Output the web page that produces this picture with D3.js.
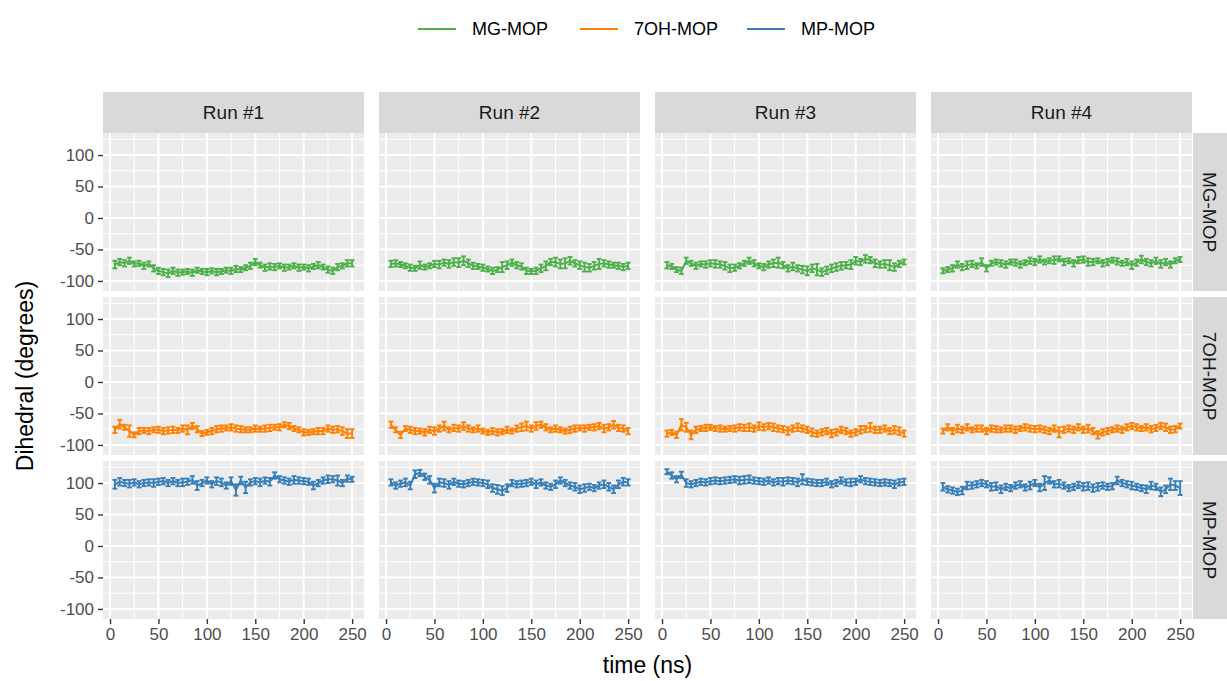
<!DOCTYPE html>
<html>
<head>
<meta charset="utf-8">
<script src="https://cdn.jsdelivr.net/npm/d3@7"></script>
<style>
  body { margin: 0; background: #fff; }
  text { font-family: "Liberation Sans", Arial, sans-serif; }
</style>
</head>
<body>
<div id="chart"></div>
<script>
// categories and ticks
const molecules = ['MG-MOP', '7OH-MOP', 'MP-MOP'];
const runs = ['Run #1', 'Run #2', 'Run #3', 'Run #4'];
const yTicks = [-100, -50, 0, 50, 100];
const xTicks = [0, 50, 100, 150, 200, 250];
const times = [5,10,15,20,25,30,35,40,45,50,55,60,65,70,75,80,85,90,95,100,
               105,110,115,120,125,130,135,140,145,150,155,160,165,170,175,180,185,190,195,200,
               205,210,215,220,225,230,235,240,245,250];

// MG-MOP dihedral means / errors
const mgRun1 = [-74,-70,-72,-68,-73,-72,-76,-73,-80,-84,-86,-88,-84,-87,-86,-85,-87,-83,-85,-86,
                -84,-86,-85,-83,-84,-81,-82,-79,-76,-70,-75,-79,-77,-78,-76,-79,-78,-76,-79,-78,
                -80,-77,-75,-78,-82,-84,-78,-76,-72,-72];
const mgErr1 = [6,5,5,5,4,4,5,4,5,5,5,6,5,5,4,4,5,4,4,5,4,5,4,4,5,5,4,4,5,5,4,5,5,5,4,5,4,4,5,4,5,4,5,4,5,5,5,4,5,5];
const mgRun2 = [-73,-72,-74,-76,-79,-80,-75,-78,-76,-73,-74,-71,-73,-70,-71,-68,-72,-76,-77,-79,
                -81,-84,-82,-78,-75,-71,-75,-77,-84,-85,-84,-80,-76,-70,-70,-73,-72,-68,-72,-75,
                -78,-79,-76,-73,-72,-74,-75,-76,-78,-76];
const mgErr2 = [5,5,4,4,5,4,6,4,4,5,6,5,6,6,7,7,6,5,4,5,4,5,4,8,6,5,5,5,5,4,5,6,7,5,7,7,8,6,5,6,7,6,6,8,5,5,4,5,5,5];
const mgRun3 = [-75,-77,-82,-84,-68,-72,-76,-73,-74,-72,-73,-74,-76,-80,-79,-76,-72,-68,-72,-76,
                -78,-74,-72,-71,-75,-80,-77,-80,-82,-84,-80,-82,-86,-83,-80,-78,-76,-75,-74,-68,
                -70,-65,-67,-72,-74,-73,-75,-78,-73,-70];
const mgErr3 = [5,4,4,5,5,4,5,4,5,5,6,5,6,6,5,4,4,5,5,4,5,5,6,8,5,5,6,5,6,7,6,9,6,6,6,6,6,5,7,6,5,6,5,6,5,6,8,6,5,4];
const mgRun4 = [-84,-82,-80,-74,-78,-75,-73,-76,-70,-80,-72,-70,-72,-74,-70,-71,-74,-71,-68,-70,
                -66,-70,-68,-67,-65,-70,-68,-72,-67,-66,-70,-70,-68,-72,-70,-67,-69,-72,-70,-75,
                -71,-66,-70,-72,-68,-73,-70,-74,-68,-66];
const mgErr4 = [4,4,5,5,5,6,5,4,6,5,4,4,5,5,4,5,5,4,5,5,5,4,4,6,4,5,4,5,5,5,6,5,4,5,5,4,5,4,5,6,5,6,5,5,5,6,5,5,4,4];

// 7OH-MOP
const ohRun1 = [-76,-67,-72,-78,-84,-78,-77,-78,-76,-76,-78,-77,-76,-77,-74,-76,-70,-75,-82,-80,
                -78,-75,-74,-73,-72,-74,-75,-76,-76,-74,-75,-74,-73,-72,-72,-68,-70,-74,-76,-80,
                -80,-79,-78,-78,-74,-76,-75,-78,-82,-82];
const ohErr1 = [5,7,4,9,4,5,4,5,4,5,5,5,5,4,5,7,5,5,4,4,5,5,5,4,5,5,5,4,4,5,4,5,5,4,5,4,5,4,4,5,4,4,5,5,5,5,5,6,7,7];
const ohRun2 = [-68,-76,-84,-74,-76,-78,-78,-80,-76,-78,-74,-70,-76,-73,-74,-70,-74,-76,-74,-78,
                -80,-78,-80,-79,-76,-78,-74,-72,-70,-74,-70,-68,-72,-76,-74,-76,-78,-76,-74,-73,
                -74,-72,-72,-70,-74,-72,-68,-73,-74,-78];
const ohErr2 = [5,4,5,4,5,5,4,5,5,6,5,7,4,5,5,6,5,4,5,4,4,5,5,4,5,4,5,6,7,5,6,5,5,4,5,4,4,5,5,4,5,4,5,5,6,5,6,5,5,5];
const ohRun3 = [-82,-80,-84,-68,-72,-84,-76,-74,-73,-72,-74,-74,-75,-74,-74,-72,-73,-72,-74,-70,
                -72,-70,-72,-74,-75,-78,-74,-72,-74,-76,-80,-82,-80,-78,-82,-80,-76,-78,-82,-80,
                -76,-75,-72,-76,-76,-74,-78,-76,-78,-82];
const ohErr3 = [5,4,5,9,7,7,5,4,5,4,4,5,4,4,5,5,5,6,5,6,5,5,6,5,5,6,5,6,5,5,6,5,5,5,6,5,5,5,5,5,6,5,7,5,5,5,5,6,6,5];
const ohRun4 = [-78,-72,-78,-74,-76,-72,-76,-74,-74,-78,-74,-75,-76,-74,-74,-76,-74,-72,-74,-75,
                -74,-76,-78,-74,-80,-76,-74,-76,-72,-76,-74,-78,-84,-80,-78,-76,-74,-76,-72,-70,
                -72,-74,-72,-75,-73,-70,-72,-76,-75,-70];
const ohErr4 = [4,5,5,6,5,5,4,5,5,5,5,5,4,5,5,5,4,5,5,5,5,5,5,5,8,5,5,5,5,5,6,5,6,5,5,4,5,5,5,5,5,4,5,5,5,5,6,5,5,4];

// MP-MOP
const mpRun1 = [98,102,100,99,101,98,100,101,100,102,103,100,103,100,101,102,105,96,100,104,
                98,103,101,96,103,89,104,93,101,103,101,104,102,112,106,104,102,105,104,103,
                102,96,100,104,106,106,104,100,107,106];
const mpErr1 = [7,6,5,6,5,5,5,5,6,5,5,5,5,5,6,5,6,7,5,5,5,6,6,5,6,9,6,9,5,5,6,5,6,5,5,5,5,6,5,5,5,6,5,5,6,5,8,5,5,4];
const mpRun2 = [101,96,99,101,96,114,116,110,105,92,101,100,97,102,99,98,100,102,101,100,
                98,92,90,88,92,100,98,99,100,102,98,101,96,94,98,104,100,96,94,90,
                92,94,92,96,98,94,90,98,102,101];
const mpErr2 = [5,5,5,6,6,6,5,5,6,7,6,6,6,5,5,5,5,5,5,5,6,6,7,7,6,5,5,5,5,5,6,5,5,5,6,5,5,5,6,6,6,5,5,5,6,6,6,6,6,5];
const mpRun3 = [118,112,106,113,100,98,100,102,101,103,104,103,104,105,106,104,105,106,104,103,
                102,104,101,103,102,104,103,101,106,102,101,100,100,102,98,100,104,101,101,102,
                106,103,102,101,100,101,100,98,101,102];
const mpErr3 = [4,5,5,5,6,5,5,5,5,5,5,5,5,5,5,6,6,6,5,5,5,5,5,5,6,5,5,6,8,5,5,5,5,5,5,5,5,5,6,5,5,5,5,5,5,5,5,6,5,5];
const mpRun4 = [94,90,88,86,88,96,96,98,100,98,94,95,90,94,92,96,98,93,96,100,
                93,100,104,98,99,96,92,94,97,94,95,92,94,96,94,95,104,100,98,96,
                94,92,90,96,94,86,90,98,96,92];
const mpErr4 = [6,5,5,5,6,6,5,5,5,5,6,6,6,5,5,5,5,5,6,5,6,11,5,5,6,5,5,5,5,6,6,6,6,5,5,5,6,5,5,6,5,5,6,6,5,7,6,9,7,11];

// table built from the arrays above: rows = molecule, columns = run
const panels = {
    'MG-MOP': [[mgRun1, mgErr1], [mgRun2, mgErr2], [mgRun3, mgErr3], [mgRun4, mgErr4]],
    '7OH-MOP': [[ohRun1, ohErr1], [ohRun2, ohErr2], [ohRun3, ohErr3], [ohRun4, ohErr4]],
    'MP-MOP': [[mpRun1, mpErr1], [mpRun2, mpErr2], [mpRun3, mpErr3], [mpRun4, mpErr4]]
};

const colorOf = {'MG-MOP': '#4DAF4A', '7OH-MOP': '#FF7F00', 'MP-MOP': '#377EB8'};

// layout
const width = 1227, height = 681;
const colX = [103, 379, 655, 931];
const rowY = [133, 297, 461];
const panelW = 261, panelH = 158;
const stripH = 41, stripW = 34;
const tickFont = 17, stripFont = 19, titleFont = 23;

const svg = d3.select('#chart').append('svg')
    .attr('width', width)
    .attr('height', height);

svg.append('rect').attr('width', width).attr('height', height).attr('fill', '#fff');

const x = d3.scaleLinear().domain([-7.25, 262.25]).range([0, panelW]);
const y = d3.scaleLinear().domain([-116, 135]).range([panelH, 0]);

const xMinor = [25, 75, 125, 175, 225];
const yMinor = [-75, -25, 25, 75, 125];

molecules.forEach((mol, r) => {
    runs.forEach((run, c) => {
        const g = svg.append('g')
            .attr('transform', `translate(${colX[c]},${rowY[r]})`);

        g.append('rect')
            .attr('width', panelW)
            .attr('height', panelH)
            .attr('fill', '#EBEBEB');

        // minor grid
        g.selectAll('.ymin').data(yMinor).enter().append('line')
            .attr('x1', 0).attr('x2', panelW)
            .attr('y1', d => y(d)).attr('y2', d => y(d))
            .attr('stroke', '#fff').attr('stroke-width', 1);
        g.selectAll('.xmin').data(xMinor).enter().append('line')
            .attr('y1', 0).attr('y2', panelH)
            .attr('x1', d => x(d)).attr('x2', d => x(d))
            .attr('stroke', '#fff').attr('stroke-width', 1);

        // major grid
        g.selectAll('.ymaj').data(yTicks).enter().append('line')
            .attr('x1', 0).attr('x2', panelW)
            .attr('y1', d => y(d)).attr('y2', d => y(d))
            .attr('stroke', '#fff').attr('stroke-width', 2);
        g.selectAll('.xmaj').data(xTicks).enter().append('line')
            .attr('y1', 0).attr('y2', panelH)
            .attr('x1', d => x(d)).attr('x2', d => x(d))
            .attr('stroke', '#fff').attr('stroke-width', 2);

        const [vals, errs] = panels[mol][c];
        const pts = times.map((t, i) => ({t: t, v: vals[i], e: errs[i]}));
        const col = colorOf[mol];

        // error bars
        const eb = g.selectAll('.eb').data(pts).enter().append('g')
            .attr('stroke', col).attr('stroke-width', 1.9);
        eb.append('line')
            .attr('x1', d => x(d.t)).attr('x2', d => x(d.t))
            .attr('y1', d => y(d.v - d.e)).attr('y2', d => y(d.v + d.e));
        eb.append('line')
            .attr('x1', d => x(d.t - 2.5)).attr('x2', d => x(d.t + 2.5))
            .attr('y1', d => y(d.v - d.e)).attr('y2', d => y(d.v - d.e));
        eb.append('line')
            .attr('x1', d => x(d.t - 2.5)).attr('x2', d => x(d.t + 2.5))
            .attr('y1', d => y(d.v + d.e)).attr('y2', d => y(d.v + d.e));

        g.append('path')
            .datum(pts)
            .attr('fill', 'none')
            .attr('stroke', col)
            .attr('stroke-width', 2)
            .attr('d', d3.line().x(d => x(d.t)).y(d => y(d.v)));

        // top strips
        if (r === 0) {
            svg.append('rect')
                .attr('x', colX[c]).attr('y', rowY[0] - stripH)
                .attr('width', panelW).attr('height', stripH)
                .attr('fill', '#D9D9D9');
            svg.append('text')
                .attr('x', colX[c] + panelW / 2)
                .attr('y', rowY[0] - stripH / 2 + stripFont * 0.35)
                .attr('text-anchor', 'middle')
                .attr('font-size', stripFont)
                .attr('fill', '#1A1A1A')
                .text(run);
        }

        // bottom axis
        if (r === molecules.length - 1) {
            const ax = svg.append('g')
                .attr('transform', `translate(${colX[c]},${rowY[r] + panelH})`)
                .call(d3.axisBottom(x).tickValues(xTicks).tickFormat(d => String(d))
                    .tickSize(5).tickPadding(4));
            ax.select('.domain').remove();
            ax.selectAll('line').attr('stroke', '#333').attr('stroke-width', 1.4);
            ax.selectAll('text').attr('font-size', tickFont).attr('fill', '#4D4D4D')
                .attr('font-family', '"Liberation Sans", Arial, sans-serif');
        }
    });

    // left axis
    const ay = svg.append('g')
        .attr('transform', `translate(${colX[0]},${rowY[r]})`)
        .call(d3.axisLeft(y).tickValues(yTicks).tickFormat(d => String(d))
            .tickSize(5).tickPadding(4));
    ay.select('.domain').remove();
    ay.selectAll('line').attr('stroke', '#333').attr('stroke-width', 1.4);
    ay.selectAll('text').attr('font-size', tickFont).attr('fill', '#4D4D4D')
        .attr('font-family', '"Liberation Sans", Arial, sans-serif');

    // right strip
    const sx = colX[3] + panelW + 1;
    svg.append('rect')
        .attr('x', sx).attr('y', rowY[r])
        .attr('width', stripW).attr('height', panelH)
        .attr('fill', '#D9D9D9');
    svg.append('text')
        .attr('transform', `translate(${sx + stripW / 2 - stripFont * 0.35},${rowY[r] + panelH / 2}) rotate(90)`)
        .attr('text-anchor', 'middle')
        .attr('font-size', stripFont)
        .attr('fill', '#1A1A1A')
        .text(mol);
});

// axis titles
svg.append('text')
    .attr('transform', `translate(33,${(rowY[0] + rowY[2] + panelH) / 2}) rotate(-90)`)
    .attr('text-anchor', 'middle')
    .attr('font-size', titleFont)
    .attr('fill', '#000')
    .text('Dihedral (degrees)');

svg.append('text')
    .attr('x', (colX[0] + colX[3] + panelW) / 2)
    .attr('y', 673)
    .attr('text-anchor', 'middle')
    .attr('font-size', titleFont)
    .attr('fill', '#000')
    .text('time (ns)');

// legend
const legendStart = [416, 578, 745];
const legend = svg.append('g');
molecules.forEach((mol, i) => {
    legend.append('line')
        .attr('x1', legendStart[i] + 2).attr('x2', legendStart[i] + 40)
        .attr('y1', 29).attr('y2', 29)
        .attr('stroke', colorOf[mol]).attr('stroke-width', 2);
    legend.append('text')
        .attr('x', legendStart[i] + 56)
        .attr('y', 29 + tickFont * 0.35)
        .attr('font-size', tickFont + 1)
        .attr('fill', '#000')
        .text(mol);
});
</script>
</body>
</html>
